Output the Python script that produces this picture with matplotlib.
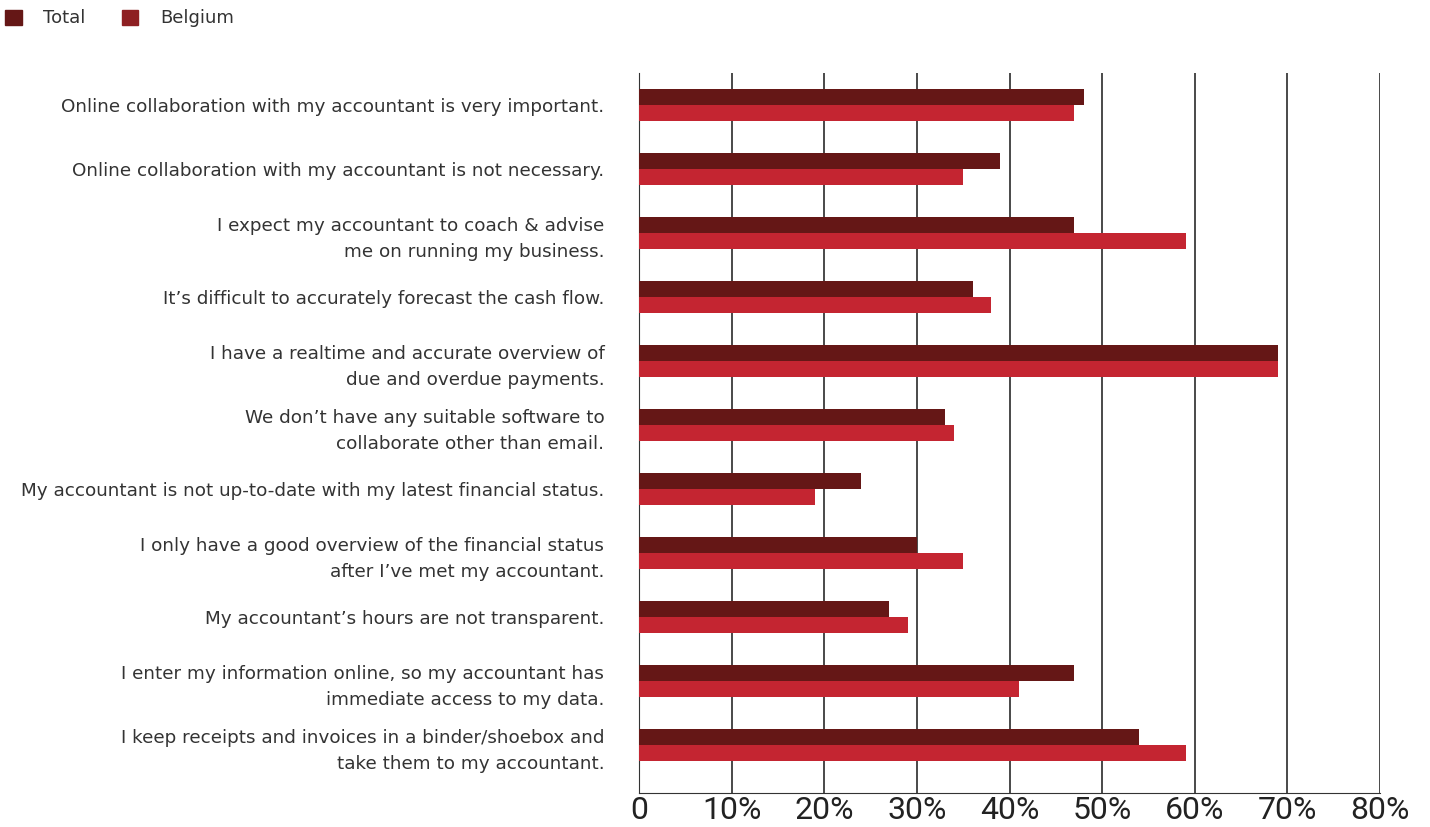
import matplotlib.pyplot as plt
import matplotlib.patches as mpatches
import numpy as np

statements = [
    "Online collaboration with my accountant is very important.",
    "Online collaboration with my accountant is not necessary.",
    "I expect my accountant to coach & advise\nme on running my business.",
    "It\u2019s difficult to accurately forecast the cash flow.",
    "I have a realtime and accurate overview of\ndue and overdue payments.",
    "We don\u2019t have any suitable software to\ncollaborate other than email.",
    "My accountant is not up-to-date with my latest financial status.",
    "I only have a good overview of the financial status\nafter I\u2019ve met my accountant.",
    "My accountant\u2019s hours are not transparent.",
    "I enter my information online, so my accountant has\nimmediate access to my data.",
    "I keep receipts and invoices in a binder/shoebox and\ntake them to my accountant.",
]
total = [48, 39, 47, 36, 69, 33, 24, 30, 27, 47, 54]
belgium = [47, 35, 59, 38, 69, 34, 19, 35, 29, 41, 59]
xticks = [0, 10, 20, 30, 40, 50, 60, 70, 80]
xticklabels = ["0", "10%", "20%", "30%", "40%", "50%", "60%", "70%", "80%"]

dark = "#651716"
red = "#c42531"

fig = plt.figure(figsize=(14.3, 8.27), dpi=100)
ax = fig.add_axes([0.4469, 0.0411, 0.5182, 0.8706])

y = np.arange(len(statements))
h = 0.25
ax.barh(y - h / 2, total, height=h, color=dark, zorder=3)
ax.barh(y + h / 2, belgium, height=h, color=red, zorder=3)

ax.set_xlim(0, 80)
ax.set_ylim(10.75, -0.5)
ax.set_xticks(xticks)
ax.set_xticklabels(xticklabels, fontsize=23, color="#222222", family="Roboto")
ax.set_yticks(y)
ax.set_yticklabels(statements, fontsize=13.2, color="#333333", linespacing=1.55)
ax.tick_params(axis="y", length=0, pad=25)
ax.tick_params(axis="x", length=0, pad=2)

for x in xticks[1:]:
    ax.axvline(x, color="#3a3a3a", lw=1.3, zorder=1)
for s in ["top", "right"]:
    ax.spines[s].set_visible(False)
ax.spines["left"].set_color("#333333")
ax.spines["bottom"].set_color("#333333")

handles = [mpatches.Patch(color=dark, label="Total"),
           mpatches.Patch(color="#8e1f22", label="Belgium")]
fig.legend(handles=handles, loc="upper left", bbox_to_anchor=(-0.005, 1.004), ncol=2,
           frameon=False, fontsize=13, handlelength=0.9, handleheight=0.9,
           handletextpad=1.2, columnspacing=2.0, borderaxespad=0.3,
           labelcolor="#333333")

fig.savefig("out.png", dpi=100)
